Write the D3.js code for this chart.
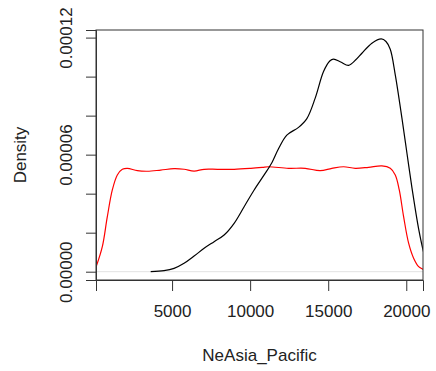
<!DOCTYPE html>
<html>
<head>
<meta charset="utf-8">
<script src="https://cdn.jsdelivr.net/npm/d3@7"></script>
<style>
  body { margin: 0; background: #fff; }
  text { font-family: "Liberation Sans", Arial, sans-serif; fill: #222; }
</style>
</head>
<body>
<div id="chart"></div>
<script>
// density curves
const blackX = [3632, 4487, 5128, 5769, 6410, 7051, 7692, 8333, 8974, 9615, 10256, 10897, 11400, 11816,
    12350, 13100, 13632, 14167, 14701, 15100, 15342, 15800, 16303, 16750, 17158, 17799, 18397, 18700,
    18974, 19295, 19722, 20043, 20364, 20791, 21111, 21300];
const blackY = [0, 5e-7, 1.7e-6, 4.3e-6, 8.0e-6, 1.2e-5, 1.54e-5, 1.88e-5, 2.48e-5, 3.33e-5, 4.19e-5, 4.96e-5,
    5.6e-5, 6.3e-5, 7.0e-5, 7.4e-5, 7.85e-5, 8.9e-5, 1.026e-4, 1.08e-4, 1.09e-4, 1.075e-4, 1.058e-4,
    1.085e-4, 1.12e-4, 1.171e-4, 1.193e-4, 1.18e-4, 1.14e-4, 1.009e-4, 7.87e-5, 6.07e-5, 4.3e-5, 2.2e-5,
    1.0e-5, 5e-6];

const redX = [0, 173, 532, 853, 1173, 1494, 1814, 2135, 2776, 3417, 4274, 5128, 5769, 6410, 7051, 7906,
    8974, 10045, 10790, 11174, 12457, 13526, 14487, 15235, 15983, 16731, 17585, 18440, 18974, 19295,
    19551, 19829, 20150, 20470, 20791, 21071, 21300];
const redY = [0, 3.4e-6, 1.28e-5, 2.82e-5, 4.19e-5, 4.96e-5, 5.25e-5, 5.30e-5, 5.18e-5, 5.15e-5, 5.21e-5,
    5.28e-5, 5.25e-5, 5.16e-5, 5.25e-5, 5.25e-5, 5.25e-5, 5.30e-5, 5.35e-5, 5.38e-5, 5.30e-5, 5.30e-5,
    5.18e-5, 5.30e-5, 5.38e-5, 5.30e-5, 5.35e-5, 5.42e-5, 5.30e-5, 4.96e-5, 4.19e-5, 2.82e-5, 1.46e-5,
    6.9e-6, 2.6e-6, 1.2e-6, 0];

const xTicks = [5000, 10000, 15000, 20000];
const yTicks = [0, 0.00002, 0.00004, 0.00006, 0.00008, 0.0001, 0.00012];
const yLabels = ['0.00000', '', '', '0.00006', '', '', '0.00012'];

const W = 436, H = 371;
const margin = { top: 30, right: 13, bottom: 91, left: 96 };

const svg = d3.select('#chart').append('svg')
    .attr('width', W)
    .attr('height', H);

svg.append('rect').attr('width', W).attr('height', H).attr('fill', '#fff');

const x = d3.scaleLinear().domain([128, 21071]).range([margin.left, W - margin.right]);
const y = d3.scaleLinear().domain([-4.26e-6, 0.0001239]).range([H - margin.bottom, margin.top]);

svg.append('clipPath').attr('id', 'plotClip')
    .append('rect')
    .attr('x', margin.left)
    .attr('y', margin.top)
    .attr('width', W - margin.right - margin.left)
    .attr('height', H - margin.bottom - margin.top);

const plot = svg.append('g').attr('clip-path', 'url(#plotClip)');

// zero line
plot.append('line')
    .attr('x1', margin.left).attr('x2', W - margin.right)
    .attr('y1', y(0)).attr('y2', y(0))
    .attr('stroke', '#e2e2e2')
    .attr('stroke-width', 1);

const line = d3.line()
    .x(d => x(d[0]))
    .y(d => y(d[1]))
    .curve(d3.curveCatmullRom);

plot.append('path')
    .datum(d3.zip(redX, redY))
    .attr('d', line)
    .attr('fill', 'none')
    .attr('stroke', '#ff0000')
    .attr('stroke-width', 1.2);

plot.append('path')
    .datum(d3.zip(blackX, blackY))
    .attr('d', line)
    .attr('fill', 'none')
    .attr('stroke', '#000')
    .attr('stroke-width', 1.2);

// box
svg.append('rect')
    .attr('x', margin.left)
    .attr('y', margin.top)
    .attr('width', W - margin.right - margin.left)
    .attr('height', H - margin.bottom - margin.top)
    .attr('fill', 'none')
    .attr('stroke', '#333')
    .attr('stroke-width', 1);

// x axis
const xAxis = svg.append('g')
    .attr('transform', `translate(0,${H - margin.bottom})`)
    .call(d3.axisBottom(x).tickValues(xTicks).tickSize(11).tickPadding(14).tickFormat(d3.format('d')));
xAxis.select('.domain').attr('stroke', '#333');
xAxis.selectAll('.tick line').attr('stroke', '#333');
xAxis.selectAll('text').style('font-size', '17px').attr('fill', '#222');

// y axis
const yAxis = svg.append('g')
    .attr('transform', `translate(${margin.left},0)`)
    .call(d3.axisLeft(y).tickValues(yTicks).tickSize(10).tickFormat((d, i) => yLabels[i]));
yAxis.select('.domain').attr('stroke', '#333');
yAxis.selectAll('.tick line').attr('stroke', '#333');
yAxis.selectAll('text')
    .style('font-size', '17px')
    .attr('fill', '#222')
    .attr('x', 0).attr('dy', 0)
    .attr('text-anchor', 'middle')
    .attr('transform', `translate(-24,0) rotate(-90)`);

// axis titles
svg.append('text')
    .attr('x', x.range()[0] + (x.range()[1] - x.range()[0]) / 2)
    .attr('y', 361)
    .attr('text-anchor', 'middle')
    .style('font-size', '17px')
    .text('NeAsia_Pacific');

svg.append('text')
    .attr('transform', `translate(26,${(margin.top + H - margin.bottom) / 2}) rotate(-90)`)
    .attr('text-anchor', 'middle')
    .style('font-size', '17px')
    .text('Density');
</script>
</body>
</html>
